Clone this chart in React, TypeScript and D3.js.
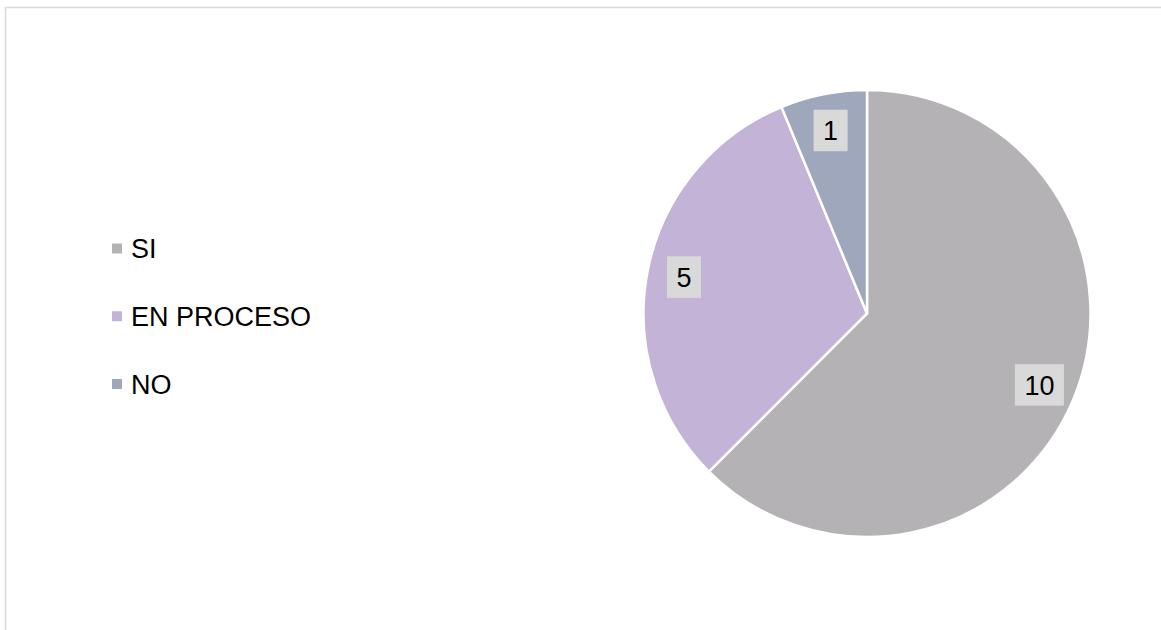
import React from "react";
import * as d3 from "d3";

const categories = ["SI", "EN PROCESO", "NO"];
const values = [10, 5, 1];
const colors = ["#b4b2b5", "#c3b3d6", "#9fa7bd"];

const W = 1161;
const H = 630;
const cx = 867;
const cy = 313.5;
const R = 223.5;
const FONT = "Liberation Sans, Arial, sans-serif";
const FS = 27;

export default function App() {
  const data = categories.map((c, i) => ({ c, v: values[i], color: colors[i] }));
  const pie = d3.pie<any>().value((d) => d.v).sort(null);
  const arcs = pie(data);
  const arc = d3.arc<any>().innerRadius(0).outerRadius(R);
  const labelArc = d3.arc<any>().innerRadius(R * 0.835).outerRadius(R * 0.835);

  const legendY = d3.scalePoint<string>().domain(categories).range([248.5, 384]);

  return (
    <svg width={W} height={H} style={{ position: "absolute", left: 0, top: 0 }}>
      <rect x={0} y={0} width={W} height={H} fill="#fff" />
      <rect x={5.5} y={7.5} width={W + 20} height={H + 20} fill="#fff" stroke="#d9d9d9" strokeWidth={1.5} />
      <g transform={`translate(${cx},${cy})`}>
        {arcs.map((a, i) => (
          <path key={i} d={arc(a) as string} fill={a.data.color} stroke="#fff" strokeWidth={2.5} />
        ))}
        {arcs.map((a, i) => {
          const [x, y] = labelArc.centroid(a);
          const txt = String(a.data.v);
          const tw = txt.length * FS * 0.556;
          const bw = tw + 19;
          const bh = 41.5;
          return (
            <g key={"l" + i}>
              <rect x={x - bw / 2} y={y - bh / 2} width={bw} height={bh} fill="#d9d9d9" />
              <text x={x} y={y + FS * 0.36} textAnchor="middle" fontFamily={FONT} fontSize={FS} fill="#000">
                {txt}
              </text>
            </g>
          );
        })}
      </g>
      {data.map((d) => {
        const y = legendY(d.c) as number;
        return (
          <g key={d.c}>
            <rect x={112} y={y - 5} width={10} height={10} fill={d.color} />
            <text x={131} y={y + FS * 0.36} fontFamily={FONT} fontSize={FS} fill="#000">
              {d.c}
            </text>
          </g>
        );
      })}
    </svg>
  );
}
